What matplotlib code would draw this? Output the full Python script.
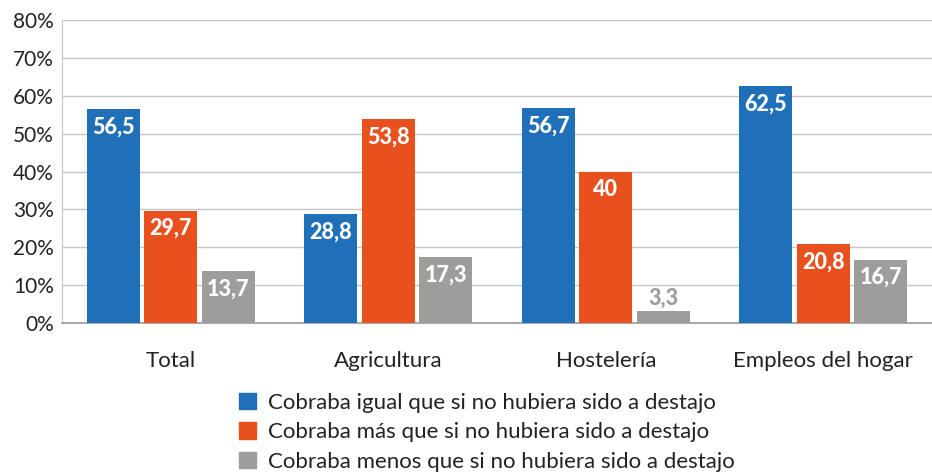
import numpy as np
import matplotlib
matplotlib.use('Agg')
from matplotlib import pyplot as plt
from matplotlib.patches import Patch

categories = ['Total', 'Agricultura', 'Hostelería', 'Empleos del hogar']
series_names = ['Cobraba igual que si no hubiera sido a destajo',
                'Cobraba más que si no hubiera sido a destajo',
                'Cobraba menos que si no hubiera sido a destajo']
igual = [56.5, 28.8, 56.7, 62.5]
mas = [29.7, 53.8, 40, 20.8]
menos = [13.7, 17.3, 3.3, 16.7]
labels_igual = ['56,5', '28,8', '56,7', '62,5']
labels_mas = ['29,7', '53,8', '40', '20,8']
labels_menos = ['13,7', '17,3', '3,3', '16,7']
yticks = [0, 10, 20, 30, 40, 50, 60, 70, 80]

colors = ['#1f70b8', '#e8501e', '#9d9d9c']

plt.rcParams['font.family'] = ['Lato', 'DejaVu Sans']

fig = plt.figure(figsize=(9.32, 4.72), dpi=100)
ax = fig.add_axes([62/932, 1-323/472, 870/932, 303/472])

x = np.arange(len(categories))
w = 0.244
step = 0.264
for k, (vals, labs) in enumerate([(igual, labels_igual), (mas, labels_mas), (menos, labels_menos)]):
    pos = x + (k - 1) * step
    ax.bar(pos, vals, width=w, color=colors[k], zorder=3)
    for p, v, t in zip(pos, vals, labs):
        if v < 8:
            ax.text(p, v + 0.5, t, ha='center', va='bottom', color=colors[k],
                    fontsize=15.5, fontweight='black')
        else:
            ax.text(p, v - 4.7, t, ha='center', va='center', color='white',
                    fontsize=15.5, fontweight='black')

ax.set_xlim(-0.5, 3.5)
ax.set_ylim(0, 80)
ax.set_yticks(yticks)
ax.set_yticklabels([f'{t}%' for t in yticks], fontsize=15, color='#222222')
ax.set_xticks(x)
ax.set_xticklabels(categories, fontsize=16, color='#222222')
ax.tick_params(axis='both', length=0)
ax.tick_params(axis='x', pad=20)
ax.tick_params(axis='y', pad=6)
ax.grid(axis='y', color='#c6c6c6', linewidth=1, zorder=0)
for s in ['top', 'right']:
    ax.spines[s].set_visible(False)
ax.spines['left'].set_color('#c6c6c6')
ax.spines['bottom'].set_color('#9a9a9a')
ax.spines['bottom'].set_linewidth(1.2)

handles = [Patch(color=c) for c in colors]
fig.legend(handles, series_names, loc='upper left', bbox_to_anchor=(230/932, 1-384/472),
           frameon=False, fontsize=16, handlelength=0.75, handleheight=0.75,
           handletextpad=0.55, labelspacing=0.42, labelcolor='#222222',
           borderaxespad=0)

fig.savefig('out.png', dpi=100)
